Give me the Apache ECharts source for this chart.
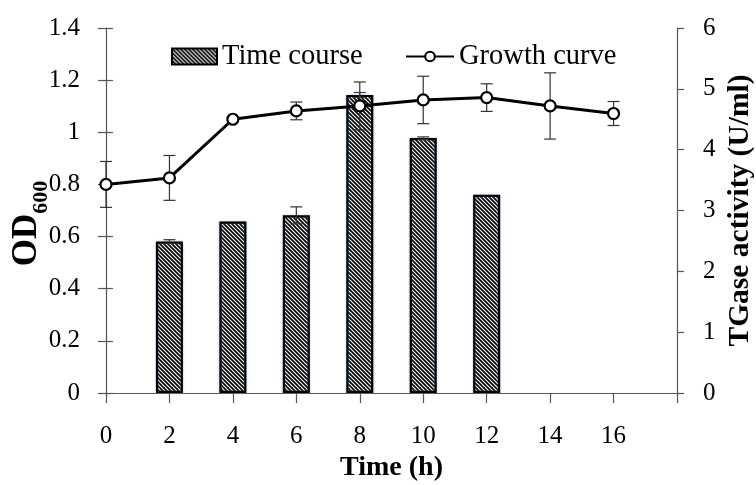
<!DOCTYPE html>
<html><head><meta charset="utf-8">
<script src="https://cdn.jsdelivr.net/npm/echarts@6/dist/echarts.min.js"></script>
<style>html,body{margin:0;padding:0;background:#fff}#c{width:756px;height:485px}</style>
</head><body><div id="c"></div>
<script>
// ---- data ----
const timeLine = [0, 2, 4, 6, 8, 10, 12, 14, 16];
const od600 = [0.80, 0.825, 1.05, 1.082, 1.101, 1.124, 1.133, 1.101, 1.072];
const od600Err = [0.088, 0.086, 0, 0.034, 0.092, 0.091, 0.053, 0.127, 0.046];
const timeBar = [2, 4, 6, 8, 10, 12];
const activity = [2.49, 2.82, 2.92, 4.90, 4.19, 3.26];
const activityErr = [0.03, 0, 0.14, 0.04, 0.02, 0];
const xTickLabels = ['0', '2', '4', '6', '8', '10', '12', '14', '16'];

const FONT = "'Liberation Serif', 'Times New Roman', serif";
const AXC = '#555';

function hatch() {
  const c = document.createElement('canvas');
  c.width = c.height = 4;
  const g = c.getContext('2d');
  g.fillStyle = '#fff'; g.fillRect(0, 0, 4, 4);
  g.strokeStyle = '#000'; g.lineWidth = 1.7; g.lineCap = 'square';
  g.beginPath();
  g.moveTo(-1, -1); g.lineTo(5, 5);
  g.moveTo(-1, 3); g.lineTo(1, 5);
  g.moveTo(3, -1); g.lineTo(5, 1);
  g.stroke();
  return c;
}
const hatchFill = { image: hatch(), repeat: 'repeat' };

function errRender(capW) {
  return function (params, api) {
    const x = api.value(0), lo = api.value(1), hi = api.value(2);
    const p1 = api.coord([x, hi]), p2 = api.coord([x, lo]);
    const st = { stroke: '#333', lineWidth: 1.2 };
    return { type: 'group', children: [
      { type: 'line', shape: { x1: p1[0], y1: p1[1], x2: p2[0], y2: p2[1] }, style: st },
      { type: 'line', shape: { x1: p1[0] - capW / 2, y1: p1[1], x2: p1[0] + capW / 2, y2: p1[1] }, style: st },
      { type: 'line', shape: { x1: p2[0] - capW / 2, y1: p2[1], x2: p2[0] + capW / 2, y2: p2[1] }, style: st }
    ]};
  };
}

const lineData = timeLine.map((t, i) => [t, od600[i]]);
const lineErrData = timeLine.map((t, i) => [t, od600[i] - od600Err[i], od600[i] + od600Err[i]]).filter((d, i) => od600Err[i] > 0);
const barData = timeBar.map((t, i) => [t, activity[i]]);
const barErrData = timeBar.map((t, i) => [t, activity[i] - activityErr[i], activity[i] + activityErr[i]]).filter((d, i) => activityErr[i] > 0);

const chart = echarts.init(document.getElementById('c'), null, { renderer: 'canvas' });
const txt = { fontFamily: FONT, color: '#000' };
chart.setOption({
  animation: false,
  textStyle: { fontFamily: FONT },
  grid: { left: 106, right: 79, top: 28, bottom: 92, containLabel: false, outerBoundsMode: 'none' },
  legend: [
    { data: ['Time course'], left: 166, top: 37, icon: 'rect', itemWidth: 45, itemHeight: 16, itemGap: 6,
      textStyle: Object.assign({ fontSize: 28.5 }, txt) },
    { data: ['Growth curve'], left: 400, top: 37, itemWidth: 48, itemHeight: 12, itemGap: 4,
      textStyle: Object.assign({ fontSize: 28.5 }, txt) }
  ],
  xAxis: {
    type: 'value', min: 0, max: 18, interval: 2,
    name: 'Time (h)', nameLocation: 'middle', nameGap: 58,
    nameTextStyle: Object.assign({ fontSize: 28, fontWeight: 'bold' }, txt),
    axisLine: { lineStyle: { color: AXC, width: 1.2 } },
    axisTick: { length: 10, lineStyle: { color: AXC, width: 1.2 } },
    axisLabel: Object.assign({ fontSize: 25, margin: 31,
      formatter: v => { const i = Math.round(v / 2); return i < xTickLabels.length ? xTickLabels[i] : ''; } }, txt),
    splitLine: { show: false }
  },
  yAxis: [
    { type: 'value', position: 'left', min: 0, max: 1.4, interval: 0.2,
      name: '{a|OD}{b|600}', nameLocation: 'middle', nameGap: 62, nameRotate: 90, nameMoveOverlap: false,
      nameTextStyle: { padding: [0, 0, 0, -26], rich: {
        a: { fontFamily: FONT, fontSize: 35, fontWeight: 'bold', color: '#000', lineHeight: 40, verticalAlign: 'bottom' },
        b: { fontFamily: FONT, fontSize: 22, fontWeight: 'bold', color: '#000', lineHeight: 40, verticalAlign: 'bottom', padding: [0, 0, -8, 0] } } },
      axisLine: { show: true, lineStyle: { color: AXC, width: 1.2 } },
      axisTick: { show: true, length: 8, lineStyle: { color: AXC, width: 1.2 } },
      axisLabel: Object.assign({ fontSize: 25, margin: 26, formatter: v => String(+v.toFixed(1)) }, txt),
      splitLine: { show: false } },
    { type: 'value', position: 'right', min: 0, max: 6, interval: 1,
      name: 'TGase activity (U/ml)', nameLocation: 'middle', nameGap: 48, nameRotate: 90, nameMoveOverlap: false,
      nameTextStyle: Object.assign({ fontSize: 29.5, fontWeight: 'bold' }, txt),
      axisLine: { show: true, lineStyle: { color: AXC, width: 1.2 } },
      axisTick: { show: true, length: 7, lineStyle: { color: AXC, width: 1.2 } },
      axisLabel: Object.assign({ fontSize: 25, margin: 26, align: 'left' }, txt),
      splitLine: { show: false } },
    { type: 'value', position: 'left', min: 0, max: 1.4, interval: 0.2,
      axisLine: { show: false }, axisLabel: { show: false }, splitLine: { show: false },
      axisTick: { show: true, inside: true, length: 7, lineStyle: { color: AXC, width: 1.2 } } }
  ],
  series: [
    { name: 'Time course', type: 'bar', yAxisIndex: 1, data: barData, barWidth: 27, z: 2,
      itemStyle: { color: hatchFill, borderColor: '#000', borderWidth: 2.2,
        shadowColor: 'rgba(120,160,210,0.7)', shadowBlur: 2 } },
    { type: 'custom', yAxisIndex: 1, data: barErrData, renderItem: errRender(12), z: 3, silent: true },
    { type: 'custom', yAxisIndex: 0, data: lineErrData, renderItem: errRender(12), z: 4, silent: true },
    { name: 'Growth curve', type: 'line', yAxisIndex: 0, data: lineData, z: 5,
      symbol: 'circle', symbolSize: 11,
      lineStyle: { color: '#000', width: 3 },
      itemStyle: { color: '#fff', borderColor: '#000', borderWidth: 2.2 } }
  ]
});
</script></body></html>
